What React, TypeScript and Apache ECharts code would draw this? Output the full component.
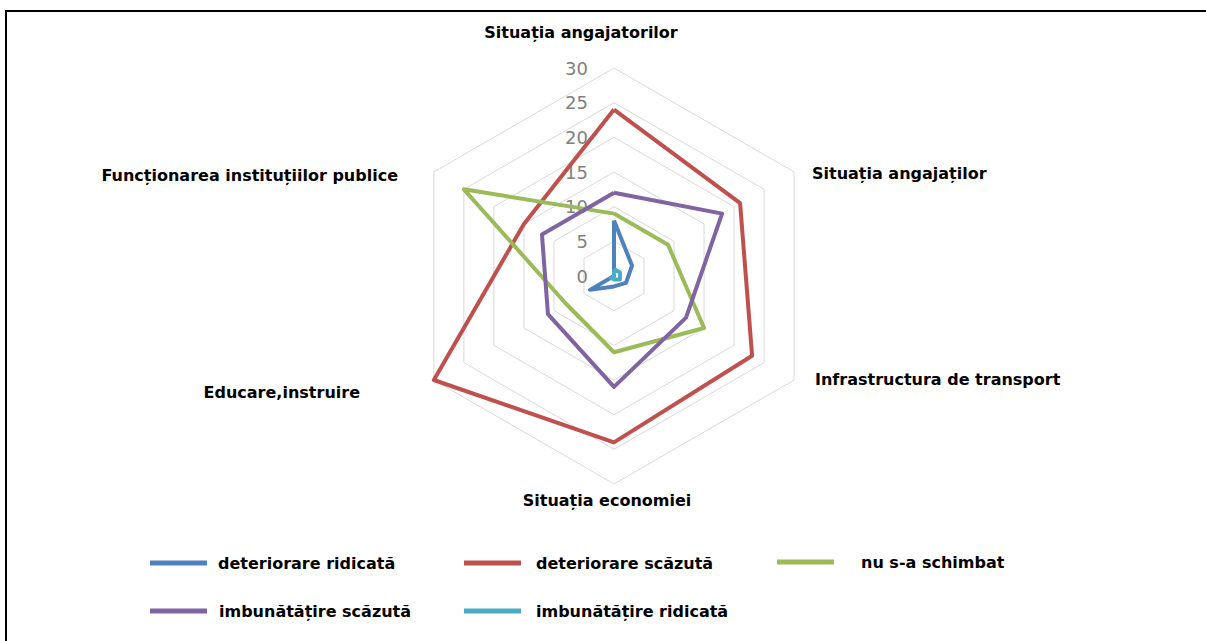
import React, { useEffect, useRef } from "react";
import * as echarts from "echarts";

// Axes of the radar, listed counter-clockwise starting from the top
const categories = [
  "Situația angajatorilor",
  "Funcționarea instituțiilor publice",
  "Educare,instruire",
  "Situația economiei",
  "Infrastructura de transport",
  "Situația angajaților",
];

const seriesNames = [
  "deteriorare ridicată",
  "deteriorare scăzută",
  "nu s-a schimbat",
  "imbunătățire scăzută",
  "imbunătățire ridicată",
];

// Values per series, in the same order as the categories
const deteriorareRidicata = [8, 0, 4, 1.5, 2, 3];
const deteriorareScazuta = [24, 15, 30, 24, 23, 21];
const nuSaSchimbat = [9, 25, 8, 11, 15, 9];
const imbunatatireScazuta = [12, 12, 11, 16, 12, 18];
const imbunatatireRidicata = [1, 0, 0.5, 0.5, 1, 1];

const seriesValues = [
  deteriorareRidicata,
  deteriorareScazuta,
  nuSaSchimbat,
  imbunatatireScazuta,
  imbunatatireRidicata,
];

const axisMax = 30;
const axisSplits = 6;

const palette = ["#4F81BD", "#C0504D", "#9BBB59", "#8064A2", "#4BACC6"];

const CX = 614;
const CY = 276;
const R = 208;

const NAME_FONT = "bold 16px 'DejaVu Sans', Verdana, sans-serif";

// Where each axis name sits, relative to the radar centre
const namePlacement = [
  { dx: -33, dy: -244, align: "center" },
  { dx: -216, dy: -101, align: "right" },
  { dx: -254, dy: 116, align: "right" },
  { dx: -7, dy: 224, align: "center" },
  { dx: 201, dy: 103, align: "left" },
  { dx: 198, dy: -103, align: "left" },
];

// Legend slots: icon left edge, row centre, extra gap before the text
const legendSlots = [
  { left: 150, y: 565, gap: 6 },
  { left: 464, y: 565, gap: 10 },
  { left: 777, y: 564, gap: 22 },
  { left: 150, y: 613, gap: 7 },
  { left: 464, y: 613, gap: 10 },
];

export default function App() {
  const ref = useRef<HTMLDivElement>(null);

  useEffect(() => {
    if (!ref.current) return;
    const chart = echarts.init(ref.current, null, { renderer: "svg" });

    const option = {
      animation: false,
      backgroundColor: "#ffffff",
      color: palette,
      radar: {
        center: [CX, CY],
        radius: R,
        startAngle: 90,
        shape: "polygon",
        splitNumber: axisSplits,
        axisName: { show: false },
        axisLine: { show: false },
        axisTick: { show: false },
        axisLabel: { show: false },
        splitArea: { show: false },
        splitLine: { lineStyle: { color: "#D9D9D9", width: 1 } },
        indicator: categories.map((name, i) => ({
          name,
          min: 0,
          max: axisMax,
          axisLabel:
            i === 0
              ? {
                  show: true,
                  color: "#7F7F7F",
                  fontSize: 18,
                  fontFamily: "'DejaVu Sans', sans-serif",
                  margin: 26,
                }
              : { show: false },
        })),
      },
      legend: seriesNames.map((name, i) => ({
        data: [name],
        orient: "horizontal",
        left: legendSlots[i].left,
        top: legendSlots[i].y - 10,
        padding: 0,
        itemWidth: 57,
        itemHeight: 5,
        icon: "rect",
        selectedMode: false,
        textStyle: {
          color: "#000000",
          fontSize: 16,
          fontWeight: "bold",
          fontFamily: "'DejaVu Sans', Verdana, sans-serif",
          padding: [0, 0, 0, legendSlots[i].gap],
        },
      })),
      series: seriesNames.map((name, i) => ({
        type: "radar",
        name,
        symbol: "none",
        lineStyle: { color: palette[i], width: 4 },
        itemStyle: { color: palette[i] },
        data: [{ name, value: seriesValues[i] }],
      })),
      graphic: [
        {
          type: "rect",
          silent: true,
          shape: { x: 6, y: 11, width: 1230, height: 700 },
          style: { fill: "none", stroke: "#000000", lineWidth: 2 },
        },
        ...categories.map((name, i) => ({
          type: "text",
          silent: true,
          x: CX + namePlacement[i].dx,
          y: CY + namePlacement[i].dy,
          style: {
            text: name,
            font: NAME_FONT,
            fill: "#000000",
            align: namePlacement[i].align,
            verticalAlign: "middle",
          },
        })),
      ],
    };

    chart.setOption(option as any);
    return () => chart.dispose();
  }, []);

  return (
    <div
      ref={ref}
      style={{ position: "fixed", left: 0, top: 0, width: 1206, height: 641 }}
    />
  );
}
